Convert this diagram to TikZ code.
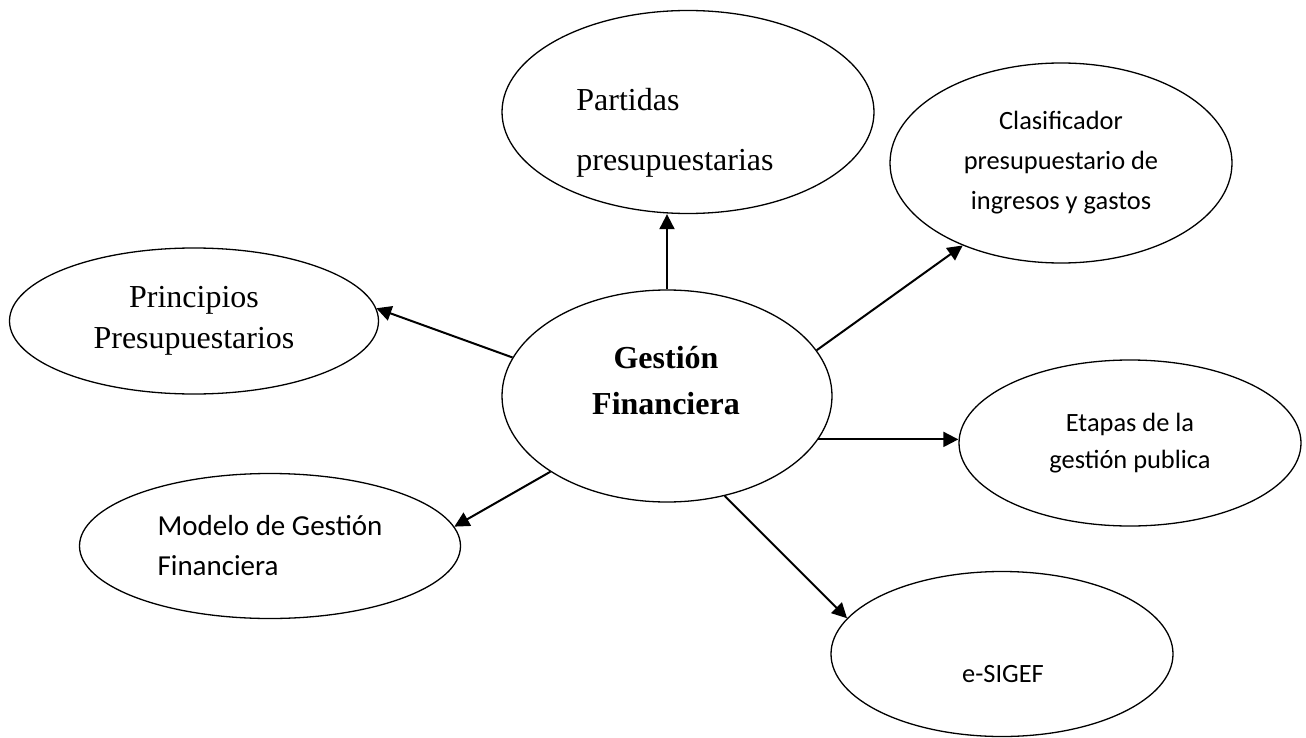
\documentclass[tikz,border=0pt]{standalone}
\usepackage{fontspec}
\setmainfont{Liberation Serif}
\newfontfamily\calibri{Carlito}
\usetikzlibrary{arrows.meta,shapes.geometric}

\begin{document}
\begin{tikzpicture}[x=0.5pt,y=-0.5pt,
    bubble/.style={ellipse,draw,line width=0.65pt,inner sep=0pt},
    roman/.style={font=\fontsize{16}{20.5}\selectfont,align=center},
    sans/.style={font=\calibri\fontsize{13.2}{20}\selectfont,align=center},
    link/.style={-{Triangle[length=7.5pt,width=7.5pt]},line width=1pt}]
  \useasboundingbox (0,0) rectangle (1306,738);

  \node[bubble,minimum width=165pt,minimum height=106pt] (gf) at (667,396) {};
  \node[align=center,font=\bfseries\fontsize{16}{23}\selectfont] (gftext) at (666,381) {Gestión\\Financiera};

  \node[bubble,minimum width=186pt,minimum height=101.5pt] (pp) at (688,112) {};
  \node[align=left,font=\fontsize{16}{30}\selectfont] (pptext) at (675,133) {Partidas\\presupuestarias};

  \node[bubble,sans,minimum width=171pt,minimum height=100pt] (cl) at (1061,163) {Clasificador\\presupuestario de\\ingresos y gastos};
  \node[bubble,roman,minimum width=184.5pt,minimum height=73pt] (pr) at (194,321) {Principios\\Presupuestarios};
  \node[bubble,sans,font=\calibri\fontsize{13.2}{18.5}\selectfont,minimum width=171pt,minimum height=83pt] (et) at (1130,443) {Etapas de la\\gestión publica};
  \node[bubble,sans,align=left,font=\calibri\fontsize{14.5}{20}\selectfont,minimum width=190.5pt,minimum height=72.5pt] (mo) at (270,546) {Modelo de Gestión\\Financiera};

  \node[bubble,minimum width=171pt,minimum height=82.5pt] (es) at (1002,654) {};
  \node[sans] (estext) at (1003,674) {e-SIGEF};

  \path[link]
    (gf.north) edge (gf.north |- pp.south)
    (gf.166)   edge (pr.4)
    (gf.17)    edge (cl.220)
    (gf.344)   edge (gf.344 -| et.west)
    (gf.213)   edge (mo.6)
    (gf.300)   edge (es.167);
\end{tikzpicture}
\end{document}
